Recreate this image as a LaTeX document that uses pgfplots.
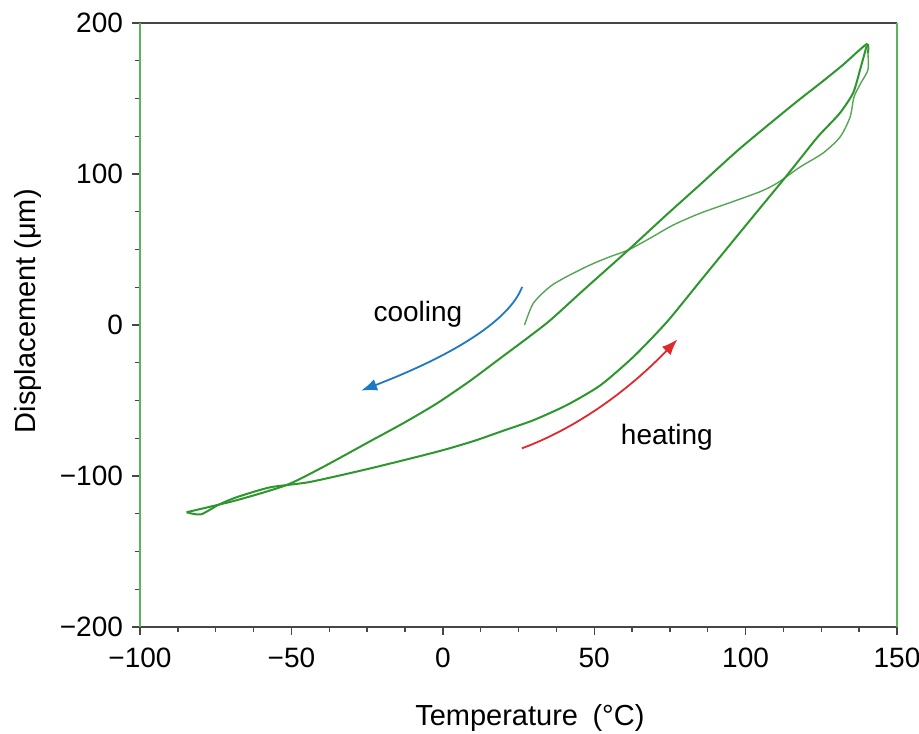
\documentclass[border=0pt]{standalone}
\usepackage{fontspec}
\setmainfont{Liberation Sans}
\usepackage{pgfplots}
\pgfplotsset{compat=1.18}
\usetikzlibrary{arrows.meta}
\definecolor{loopgreen}{RGB}{45,150,45}
\definecolor{initgreen}{RGB}{85,165,85}
\definecolor{sidegreen}{RGB}{90,180,90}
\definecolor{axgray}{RGB}{70,70,70}
\definecolor{arrblue}{RGB}{30,120,195}
\definecolor{arrred}{RGB}{225,40,45}
\begin{document}
\begin{tikzpicture}
\begin{axis}[
  name=ax,
  scale only axis,
  width=378.5pt, height=302pt,
  xmin=-100, xmax=150, ymin=-200, ymax=200,
  xtick={-100,-50,0,50,100,150},
  xticklabels={−100,−50,0,50,100,150},
  ytick={-200,-100,0,100,200},
  yticklabels={−200,−100,0,100,200},
  minor tick num=3,
  tick align=outside,
  xtick pos=left, ytick pos=left,
  major tick length=4pt, minor tick length=2.5pt,
  every tick/.style={axgray, line width=0.7pt},
  separate axis lines,
  every outer x axis line/.append style={axgray, line width=0.9pt},
  every outer y axis line/.append style={sidegreen, line width=0.9pt},
  tick label style={font=\fontsize{14}{16}\selectfont, text=black},
  xticklabel style={yshift=-3pt},
  yticklabel style={xshift=-1pt},
  every axis x label/.style={at={(axis description cs:0.515,-0.151)}, anchor=center, font=\fontsize{14.5}{17}\selectfont},
  every axis y label/.style={at={(axis description cs:-0.148,0.523)}, anchor=center, rotate=90, font=\fontsize{14.5}{17}\selectfont},
  xlabel={Temperature\enspace(°C)},
  ylabel={Displacement (μm)},
  clip=false,
]
% initial heating from room temperature
\addplot[initgreen, line width=0.7pt, smooth, tension=0.45] coordinates {
(27,0) (29.9,14.4) (35.4,25.4) (40.9,32) (48.6,39.7) (55.2,45.2) (61.3,49.7)
(68.4,57.4) (76.1,66.2) (85,74) (95.8,81.7) (104.8,88.3) (110.3,93.8)
(118,104.6) (125.6,113.9) (131.2,124.5) (134.5,137.7) (135.8,151)
(138,160) (140.4,169) (140.4,180)
};
% cooling branch
\addplot[loopgreen, line width=1pt, smooth, tension=0.4] coordinates {
(140.4,180) (140,186) (132,172) (124.6,160) (115.7,146) (98.2,117) (85,93) (73.9,73)
(61.3,49.7) (46.4,23) (35.4,3) (27.7,-9) (19,-22) (9,-37) (-2,-52) (-13,-65) (-24,-77)
(-39.5,-94) (-51.6,-106) (-68,-116) (-84.6,-124)
};
% heating branch
\addplot[loopgreen, line width=1pt, smooth, tension=0.4] coordinates {
(-84.6,-124) (-80,-125.5) (-74,-119) (-68,-114) (-57,-107.5) (-44,-104)
(-24,-95) (-2,-84) (10,-77) (20,-70) (30,-63) (41,-53) (52,-40) (63,-21)
(74,2) (85,29) (96,56) (105,78) (112.4,96) (118,110) (124,125)
(131,140) (135.5,153.6) (137.8,169) (140,185)
};
\draw[arrblue, line width=0.9pt, -{Latex[length=8pt,width=6pt]}]
  (axis cs:26.2,25.2) .. controls (axis cs:22.1,3.6) and (axis cs:4.3,-19.3) .. (axis cs:-27,-43.5);
\draw[arrred, line width=0.9pt, -{Latex[length=8pt,width=6pt]}]
  (axis cs:26.1,-81.7) .. controls (axis cs:43.5,-68.8) and (axis cs:60.6,-44.8) .. (axis cs:77.5,-9.5);
\node[font=\fontsize{14}{16}\selectfont] at (axis cs:-8.2,7.3) {cooling};
\node[font=\fontsize{14}{16}\selectfont] at (axis cs:74,-74.2) {heating};
\end{axis}
\pgfresetboundingbox
\useasboundingbox ([shift={(-70pt,-53.5pt)}]ax.south west) rectangle ([shift={(11pt,11.5pt)}]ax.north east);
\end{tikzpicture}
\end{document}
